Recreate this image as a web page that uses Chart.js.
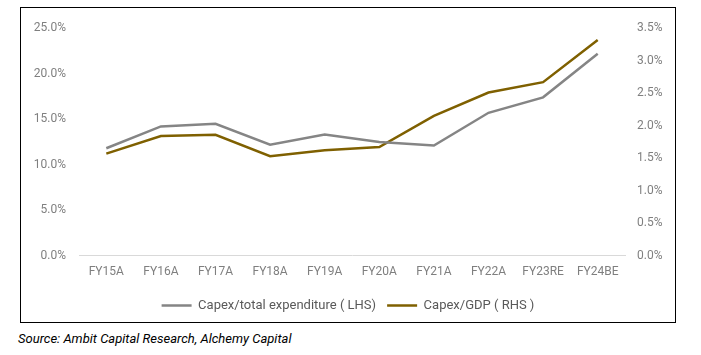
<!DOCTYPE html>
<html>
<head>
<meta charset="utf-8">
<script src="https://cdn.jsdelivr.net/npm/chart.js@4.4.0/dist/chart.umd.min.js"></script>
<style>
  html, body { margin: 0; padding: 0; background: #ffffff; width: 701px; height: 355px; overflow: hidden; }
  #box { position: absolute; left: 20px; top: 7px; width: 654px; height: 314px; border: 1px solid #000; }
  #chart { display: block; }
  #source { position: absolute; left: 18px; top: 331px; font-family: Roboto, sans-serif; font-style: italic; font-size: 13px; color: #000; white-space: nowrap; }
</style>
</head>
<body>
<div id="box"><canvas id="chart" width="654" height="314"></canvas></div>
<div id="source">Source: Ambit Capital Research, Alchemy Capital</div>
<script>
const categories = ['FY15A','FY16A','FY17A','FY18A','FY19A','FY20A','FY21A','FY22A','FY23RE','FY24BE'];
const capexToTotalExp = [11.8, 14.2, 14.5, 12.2, 13.3, 12.5, 12.1, 15.7, 17.4, 22.2];
const capexToGdp = [1.57, 1.84, 1.86, 1.53, 1.62, 1.67, 2.15, 2.51, 2.67, 3.32];
const seriesNames = ['Capex/total expenditure ( LHS)', 'Capex/GDP ( RHS )'];
const seriesColors = ['#858585', '#7f6000'];

const tickColor = '#7f7f7f';
const tickFont = { family: 'Roboto, sans-serif', size: 12 };

new Chart(document.getElementById('chart'), {
  type: 'line',
  data: {
    labels: categories,
    datasets: [
      { label: seriesNames[0], data: capexToTotalExp, yAxisID: 'y', borderColor: seriesColors[0], backgroundColor: seriesColors[0], borderWidth: 2.5, pointRadius: 0, tension: 0 },
      { label: seriesNames[1], data: capexToGdp, yAxisID: 'y1', borderColor: seriesColors[1], backgroundColor: seriesColors[1], borderWidth: 2.5, pointRadius: 0, tension: 0 }
    ]
  },
  options: {
    responsive: false,
    animation: false,
    layout: { padding: { top: 15, left: 0, right: 0, bottom: 0 } },
    plugins: {
      tooltip: { enabled: false },
      legend: {
        position: 'bottom',
        labels: {
          usePointStyle: true,
          pointStyle: 'line',
          pointStyleWidth: 30,
          color: '#595959',
          font: { family: 'Roboto, sans-serif', size: 13 },
          padding: 11
        }
      }
    },
    scales: {
      x: {
        offset: true,
        grid: { display: false, drawTicks: false },
        border: { display: true, color: '#d9d9d9', width: 1 },
        ticks: { color: tickColor, font: tickFont, padding: 9, maxRotation: 0, autoSkip: false }
      },
      y: {
        position: 'left',
        min: 0, max: 25,
        grid: { display: false, drawTicks: false },
        border: { display: false },
        ticks: { stepSize: 5, color: tickColor, font: tickFont, padding: 13, callback: v => v.toFixed(1) + '%' },
        afterFit: s => { s.width = 58; }
      },
      y1: {
        position: 'right',
        min: 0, max: 3.5,
        grid: { display: false, drawTicks: false },
        border: { display: false },
        ticks: { stepSize: 0.5, color: tickColor, font: tickFont, padding: 12, callback: v => v.toFixed(1) + '%' },
        afterFit: s => { s.width = 50; }
      }
    }
  }
});
</script>
</body>
</html>
